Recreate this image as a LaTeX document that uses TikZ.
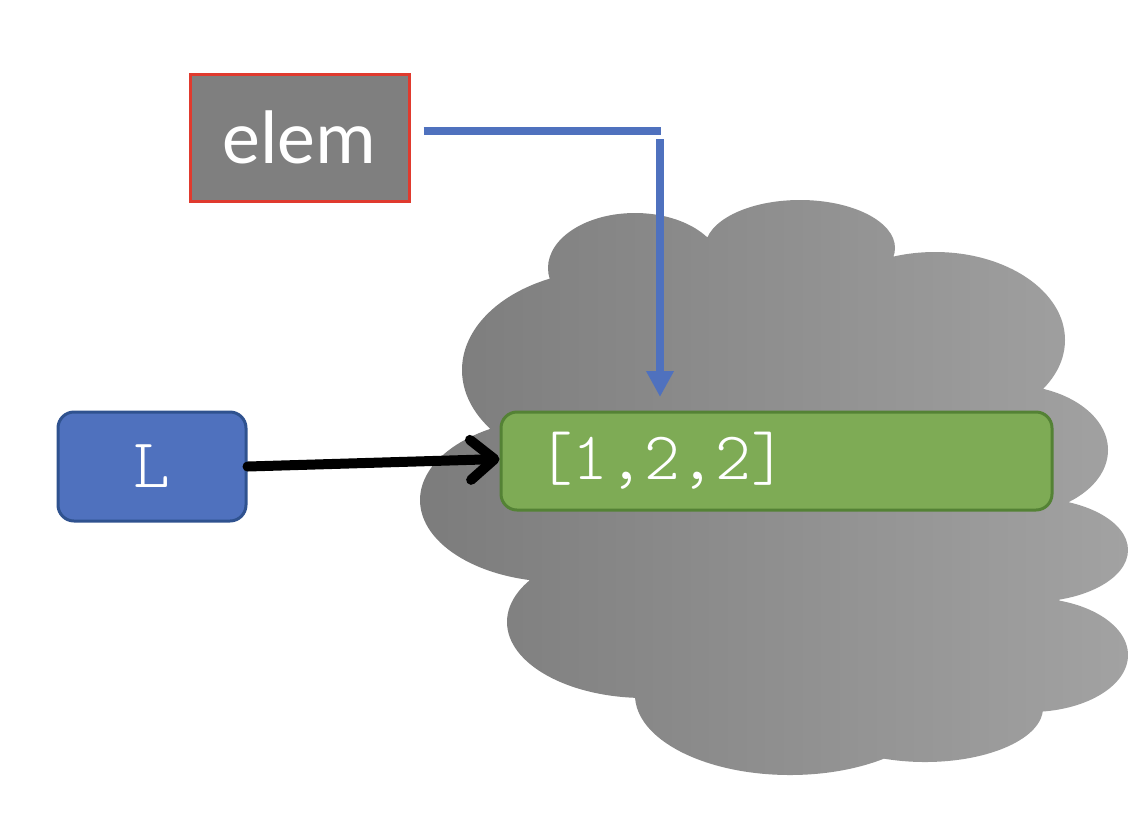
\documentclass[tikz,border=0pt]{standalone}
\usepackage{fontspec}
\setmainfont{Carlito}
\newfontfamily\monof{Latin Modern Mono Light}
\usetikzlibrary{arrows.meta}
\definecolor{boxgray}{HTML}{7F7F7F}
\definecolor{boxred}{HTML}{E03A2E}
\definecolor{lblue}{HTML}{4F71BE}
\definecolor{lblueb}{HTML}{2F528F}
\definecolor{lgreen}{HTML}{7EAB55}
\definecolor{lgreenb}{HTML}{548235}
\definecolor{cloudl}{HTML}{7C7C7C}
\definecolor{cloudr}{HTML}{A2A2A2}
\tikzset{
  elembox/.style={draw=boxred, line width=1.5pt, fill=boxgray, text=white,
    minimum width=109.5pt, minimum height=63.5pt, inner sep=0pt,
    font=\fontsize{38}{40}\selectfont},
  varbox/.style={draw=lblueb, line width=1.5pt, fill=lblue, text=white,
    rounded corners=8pt, minimum width=94pt, minimum height=54.5pt, inner sep=0pt,
    font=\monof\fontsize{35}{38}\selectfont},
  valbox/.style={draw=lgreenb, line width=1.5pt, fill=lgreen, text=white,
    rounded corners=8pt, minimum height=49pt, inner xsep=18pt, inner ysep=0pt,
    text width=239.5pt, align=left,
    font=\monof\fontsize{34}{36}\selectfont},
  bluecon/.style={draw=lblue, line width=4pt},
  blackcon/.style={draw=black, line width=5pt, line cap=round,
    -{Straight Barb[round, length=12pt, width=20pt, line width=5pt]}},
}
\begin{document}
\begin{tikzpicture}[x=0.5pt,y=-0.5pt]
\useasboundingbox (0,0) rectangle (1134,826);
% cloud
\shade[left color=cloudl, right color=cloudr]
  (635,268) ellipse [x radius=43.5pt, y radius=27.5pt]
  (800,248) ellipse [x radius=47.5pt, y radius=24pt]
  (935,340) ellipse [x radius=65pt, y radius=44pt]
  (610,370) ellipse [x radius=74pt, y radius=50pt]
  (1010,450) ellipse [x radius=49pt, y radius=32.5pt]
  (560,500) ellipse [x radius=70pt, y radius=41pt]
  (1030,550) ellipse [x radius=49pt, y radius=26pt]
  (1030,655) ellipse [x radius=49pt, y radius=28.5pt]
  (645,622) ellipse [x radius=69pt, y radius=38pt]
  (790,695) ellipse [x radius=77.5pt, y radius=40pt]
  (925,708) ellipse [x radius=59pt, y radius=27pt]
  (760,310) ellipse [x radius=55pt, y radius=35pt]
  (940,610) ellipse [x radius=60pt, y radius=45pt]
  (790,480) ellipse [x radius=120pt, y radius=105pt];
% nodes
\node[elembox] (elem) at (299.5,137.5) {elem};
\node[varbox] (L) at (152,466.5) {L};
\node[valbox] (val) at (776.5,461) {[1,2,2]};
% connectors
\coordinate (bend) at (661,131);
\coordinate (bendlow) at (660,139);
\coordinate (tip) at (660,397);
\draw[bluecon, shorten <=6.5pt] (elem.east |- bend) -- (bend);
\draw[bluecon, -{Triangle[length=13pt, width=13pt]}] (bendlow) -- (tip);
\draw[blackcon] (L.east) -- ([yshift=1pt]val.west);
\end{tikzpicture}
\end{document}
